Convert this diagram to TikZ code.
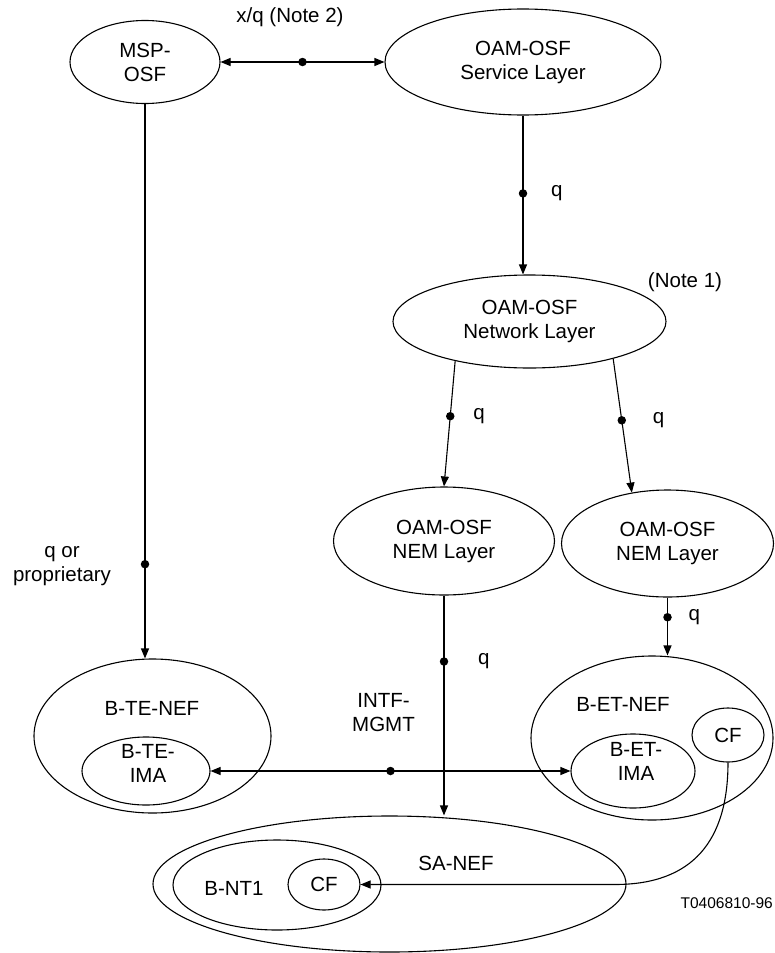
\documentclass[tikz,border=0pt]{standalone}
\usepackage{fontspec}
\setmainfont{Liberation Sans}
\usepackage{tikz}
\usetikzlibrary{shapes.geometric, arrows.meta, positioning}

\tikzset{
    func/.style={ellipse, draw, line width=1.1pt, inner sep=0pt, align=center, font=\fontsize{20.5}{24}\selectfont},
    lbl/.style={inner sep=0pt, align=center, font=\fontsize{20.5}{24}\selectfont},
    dot/.style={circle, fill, inner sep=0pt, minimum size=8.5pt},
    link/.style={line width=1.1pt, -{Triangle[length=10pt, width=8pt]}},
    blink/.style={line width=1.1pt, {Triangle[length=10pt, width=8pt]}-{Triangle[length=10pt, width=8pt]}}
}

\begin{document}
\begin{tikzpicture}[x=1pt, y=-1pt]
            \useasboundingbox (0,0) rectangle (775,953);
            \node[func, minimum width=150pt, minimum height=83pt] (msp) at (145,62) {MSP-\\OSF};
            \node[func, minimum width=276pt, minimum height=106pt] (svc) at (523,62) {OAM-OSF\\Service Layer};
            \node[func, minimum width=273pt, minimum height=93pt] (netw) at (529.5,321.5) {OAM-OSF\\Network Layer};
            \node[func, minimum width=221pt, minimum height=108pt] (nema) at (444,541) {OAM-OSF\\NEM Layer};
            \node[func, minimum width=212pt, minimum height=107pt] (nemb) at (667.5,543.5) {OAM-OSF\\NEM Layer};
            \node[func, minimum width=237pt, minimum height=154pt] (tenef) at (152.5,736) {};
            \node[func, minimum width=128pt, minimum height=68pt] (teima) at (146,771) {};
            \node[func, minimum width=242pt, minimum height=164pt] (etnef) at (652,738) {};
            \node[func, minimum width=124pt, minimum height=74pt] (etima) at (633,771) {};
            \node[func, minimum width=72pt, minimum height=54pt] (etcf) at (728,735) {CF};
            \node[func, minimum width=473pt, minimum height=136pt] (sanef) at (389.5,884) {};
            \node[func, minimum width=208pt, minimum height=90pt] (bnt) at (277,885) {};
            \node[func, minimum width=72pt, minimum height=51pt] (ntcf) at (324,884.5) {CF};

            \node[lbl] (tenefl) at (152,708) {B-TE-NEF};
            \node[lbl] (teimal) at (148,763) {B-TE-\\IMA};
            \node[lbl] (etnefl) at (623,704) {B-ET-NEF};
            \node[lbl] (etimal) at (636,761.5) {B-ET-\\IMA};
            \node[lbl] (sanefl) at (456,863) {SA-NEF};
            \node[lbl] (bntl) at (234,888) {B-NT1};

            \draw[blink] (msp.east) -- node[dot] (d1) {} (svc.west);
            \draw[link] (svc.south) -- node[dot, pos=.49] (d2) {} (svc.south |- netw.north);
            \draw[link] (netw.208) -- node[dot, pos=.44] (d3) {} (nema.north);
            \draw[link] (netw.-24) -- node[dot, pos=.46] (d4) {} (nemb.125);
            \draw[link] (msp.south) -- node[dot, pos=.83] (d5) {} (msp.south |- tenef.north);
            \draw[link] (nemb.south) -- node[dot, pos=.34] (d6) {} (nemb.south |- etnef.north);
            \draw[link] (nema.south) -- node[dot, pos=.3] (d7) {} (nema.south |- sanef.north);
            \draw[blink] (teima.east) -- node[dot] (d8) {} (etima.west);
            \coordinate (bend) at (615,884.5);
            \draw[link] (etcf.south) .. controls +(0,78) and +(78,0) .. (bend) -- (ntcf.east);

            \node[lbl] (note2) at (290,17) {x/q (Note 2)};
            \node[lbl] (note1) at (685,282) {(Note 1)};
            \node[lbl, right=23pt of d2] (q1) {q};
            \node[lbl, right=18pt of d3] (q2) {q};
            \node[lbl, right=26pt of d4] (q3) {q};
            \node[lbl, right=16pt of d6] (q4) {q};
            \node[lbl, right=29pt of d7] (q5) {q};
            \node[lbl] (qprop) at (62,566) {q or\\proprietary};
            \node[lbl, anchor=west] (intf) at (352,713) {INTF-\\MGMT};
            \node[lbl, anchor=east, font=\fontsize{15.5}{18}\selectfont] (fig) at (773,903) {T0406810-96};
        \end{tikzpicture}
\end{document}
